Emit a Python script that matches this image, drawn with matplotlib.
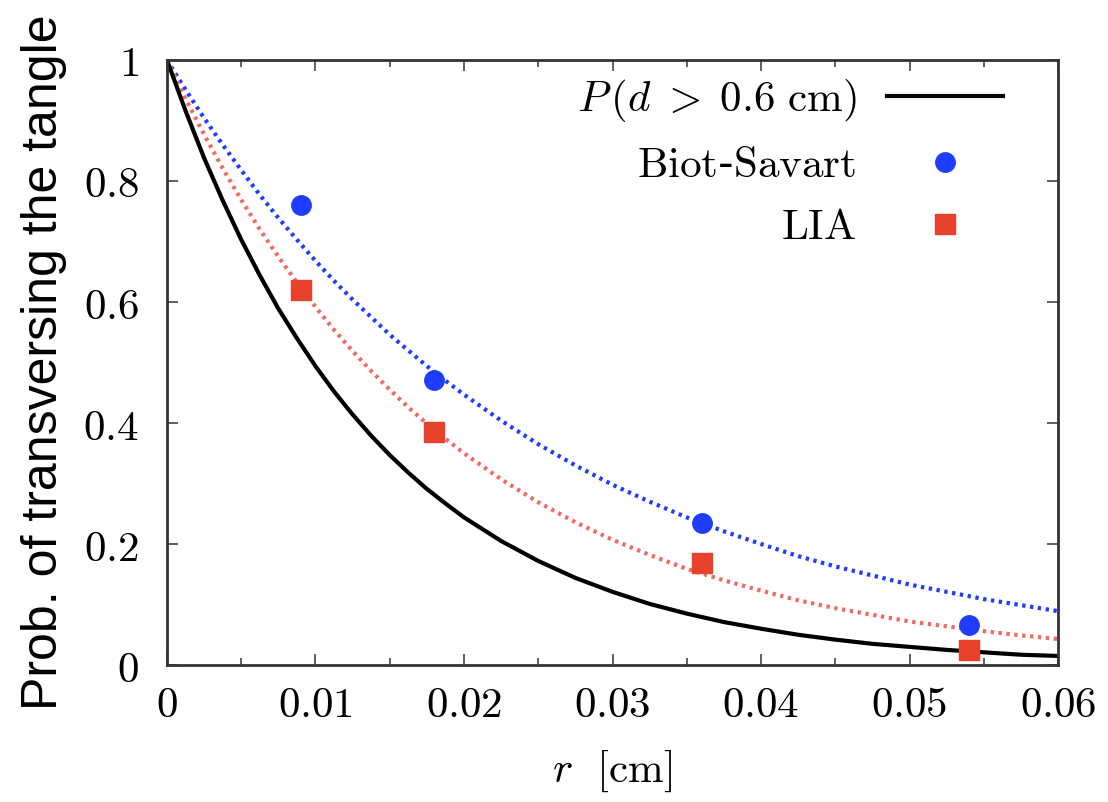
import matplotlib
matplotlib.use("Agg")
import matplotlib.pyplot as plt

plt.rcParams['mathtext.fontset'] = 'cm'

# curves
r_curve = [0.0, 0.00125, 0.0025, 0.00375, 0.005, 0.00625, 0.0075, 0.00875,
           0.01, 0.01125, 0.0125, 0.01375, 0.015, 0.01625, 0.0175, 0.01875,
           0.02, 0.0225, 0.025, 0.0275, 0.03, 0.0325, 0.035, 0.0375, 0.04,
           0.0425, 0.045, 0.0475, 0.05, 0.0525, 0.055, 0.0575, 0.06]
p_d06 = [1.0, 0.916, 0.838, 0.768, 0.703, 0.644, 0.589, 0.540,
         0.494, 0.452, 0.414, 0.379, 0.347, 0.318, 0.291, 0.267,
         0.244, 0.205, 0.172, 0.144, 0.121, 0.101, 0.085, 0.071, 0.060,
         0.050, 0.042, 0.035, 0.030, 0.025, 0.021, 0.017, 0.015]
fit_bs = [1.0, 0.951, 0.904, 0.860, 0.818, 0.777, 0.739, 0.703,
          0.668, 0.635, 0.604, 0.575, 0.546, 0.520, 0.494, 0.470,
          0.447, 0.404, 0.365, 0.330, 0.298, 0.270, 0.244, 0.221, 0.200,
          0.180, 0.163, 0.148, 0.133, 0.121, 0.109, 0.099, 0.089]
fit_lia = [1.0, 0.936, 0.877, 0.821, 0.769, 0.720, 0.675, 0.632,
           0.592, 0.554, 0.519, 0.486, 0.455, 0.426, 0.399, 0.374,
           0.350, 0.307, 0.269, 0.236, 0.207, 0.182, 0.159, 0.140, 0.123,
           0.107, 0.094, 0.083, 0.072, 0.064, 0.056, 0.049, 0.043]

# simulation points
r_pts = [0.009, 0.018, 0.036, 0.054]
bs_pts = [0.76, 0.471, 0.235, 0.066]
lia_pts = [0.62, 0.385, 0.169, 0.025]

xticks = [0, 0.01, 0.02, 0.03, 0.04, 0.05, 0.06]
xtick_labels = ['$0$', '$0.01$', '$0.02$', '$0.03$', '$0.04$', '$0.05$', '$0.06$']
yticks = [0, 0.2, 0.4, 0.6, 0.8, 1.0]
ytick_labels = ['$0$', '$0.2$', '$0.4$', '$0.6$', '$0.8$', '$1$']

blue = '#1f3dff'
red = '#e8412c'

fig = plt.figure(figsize=(11.08, 8.02), dpi=100)
ax = fig.add_axes([0.1507, 0.1708, 0.8042, 0.7544])

ax.plot(r_curve, fit_bs, color=blue, lw=3.0, ls=(0, (0.8, 1.1)))
ax.plot(r_curve, fit_lia, color='#f26b62', lw=3.0, ls=(0, (0.8, 1.1)))
ax.plot(r_curve, p_d06, color='black', lw=3.0,
        label=r'$P\,(d\;>\;0.6\ \mathrm{cm})$')
ax.plot(r_pts, bs_pts, 'o', color=blue, ms=14, label=r'$\mathrm{Biot}$-$\mathrm{Savart}$')
ax.plot(r_pts, lia_pts, 's', color=red, ms=14, label=r'$\mathrm{LIA}$')

ax.set_xlim(0, 0.06)
ax.set_ylim(0, 1)
ax.set_xticks(xticks)
ax.set_xticklabels(xtick_labels)
ax.set_xticks([0.005, 0.015, 0.025, 0.035, 0.045, 0.055], minor=True)
ax.set_yticks(yticks)
ax.set_yticklabels(ytick_labels)
ax.tick_params(which='both', direction='in', top=True, right=True,
               color='#444444', labelsize=31)
ax.tick_params(which='major', length=8, width=1.2)
ax.tick_params(which='minor', length=5, width=1.2)
ax.tick_params(axis='x', pad=14)
ax.tick_params(axis='y', pad=20)
for s in ax.spines.values():
    s.set_linewidth(2)
    s.set_color('#333333')

ax.set_xlabel(r'$r\ \ [\mathrm{cm}]$', fontsize=31, labelpad=16)
ax.set_ylabel('Prob. of transversing the tangle', fontsize=36,
              family='Liberation Sans', labelpad=12)

leg = ax.legend(loc='upper right', bbox_to_anchor=(0.938, 0.972),
                frameon=False, markerfirst=False,
                fontsize=31, handlelength=2.7, handletextpad=0.7,
                labelspacing=0.47, borderaxespad=0, borderpad=0)

fig.savefig('out.png', dpi=100)
